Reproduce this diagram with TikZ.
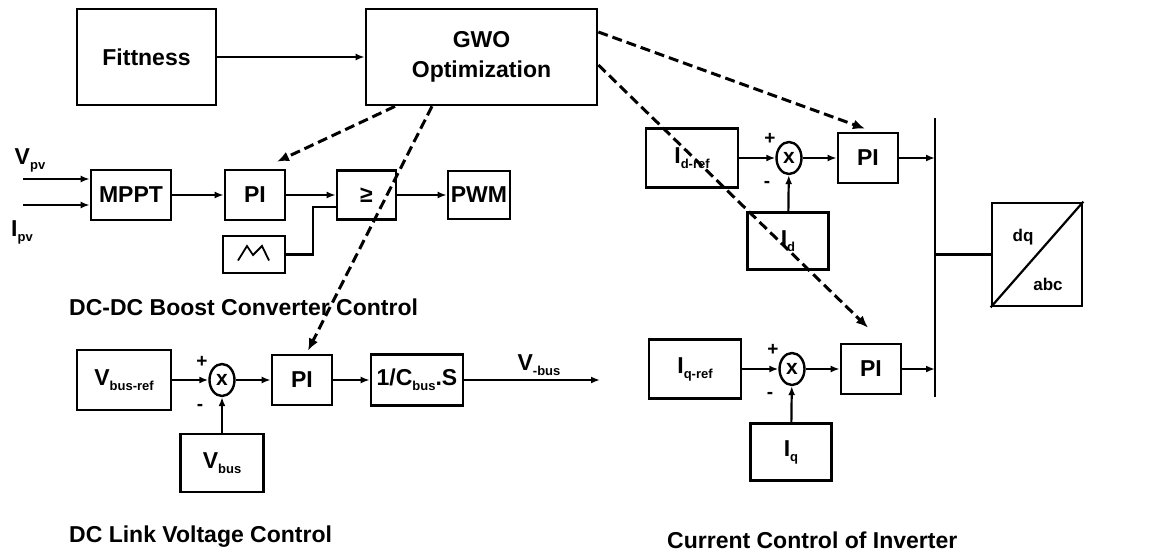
\documentclass[tikz,border=0pt]{standalone}
\usepackage{fontspec}
\setmainfont{Liberation Sans}
\usetikzlibrary{arrows.meta,calc,positioning,shapes.geometric}
\newcommand{\sbs}[1]{\raisebox{-5pt}{\fontsize{13}{13}\selectfont #1}}
\tikzset{
  blk/.style={
    draw,
    line width=2.7pt,
    inner sep=0pt,
    align=center,
    font=\bfseries\fontsize{23}{30}\selectfont
  },
  summ/.style={
    shape=ellipse,
    draw,
    line width=2.4pt,
    inner sep=0pt,
    minimum width=25pt,
    minimum height=32pt,
    font=\bfseries\fontsize{21}{21}\selectfont
  },
  wire/.style={
    line width=2.2pt,
    -{Latex[length=9pt,width=7pt]}
  },
  ctl/.style={
    line width=3pt,
    dash pattern=on 10pt off 5pt,
    -{Latex[length=12pt,width=10pt]}
  },
  sgn/.style={
    inner sep=0pt,
    font=\bfseries\fontsize{19}{19}\selectfont
  },
  ttl/.style={
    anchor=west,
    inner sep=0pt,
    font=\bfseries\fontsize{23}{26}\selectfont
  },
}

\begin{document}
\begin{tikzpicture}[x=1pt,y=-1pt]
\useasboundingbox (0,0) rectangle (1165,554);
\node[blk, minimum width=139pt, minimum height=96pt] (fit) at (146.5,57) {Fittness};
\node[blk, minimum width=231pt, minimum height=96pt] (gwo) at (481.5,57) {GWO\\Optimization};
\draw[wire] (fit) -- (gwo);

\node[blk, minimum width=80pt, minimum height=50pt] (mppt) at (131,195) {MPPT};
\node[blk, minimum width=60pt, minimum height=50pt] (pib) at (255,195) {PI};
\node[blk, minimum width=59pt, minimum height=49pt] (cmp) at (366.5,195) {≥};
\node[blk, minimum width=62pt, minimum height=48pt] (pwm) at (479,195) {PWM};
\node[blk, minimum width=62pt, minimum height=37pt] (tri) at (254,254.5) {};
\draw[line width=1.8pt] ($(tri.center)+(-16,6)$) -- ++(9,-14.5) -- ++(6,9) -- ++(9,-9) -- ++(7,14.5);
\coordinate (vpvin) at (23,179);
\coordinate (ipvin) at (23,205);
\node[blk, draw=none] (vpv) at (30,160) {V\sbs{pv}};
\node[blk, draw=none] (ipv) at (22,232) {I\sbs{pv}};
\draw[wire] (vpvin) -- (vpvin -| mppt.west);
\draw[wire] (ipvin) -- (ipvin -| mppt.west);
\draw[wire] (mppt) -- (pib);
\draw[wire] (pib) -- (cmp);
\draw[wire] (cmp) -- (pwm);
\draw[line width=2.2pt] (tri.east) -- ++(27,0) |- ([yshift=-12pt]cmp.west);
\node[ttl] (boostt) at (69,307) {DC-DC Boost Converter Control};

\node[blk, minimum width=94pt, minimum height=60pt] (vref) at (124,380) {V\sbs{bus-ref}};
\node[summ] (sumv) at (222,380) {x};
\node[blk, minimum width=60pt, minimum height=50pt] (piv) at (302,380) {PI};
\node[blk, minimum width=92pt, minimum height=51pt] (cbus) at (417,380) {1/C\sbs{bus}.S};
\node[blk, minimum width=83pt, minimum height=58pt] (vbus) at (222,463) {V\sbs{bus}};
\coordinate (vout) at (600,380);
\node[blk, draw=none] (voutl) at (539,365) {V\sbs{-bus}};
\node[sgn] at ($(sumv)+(-20,-18)$) {+};
\node[sgn] at ($(sumv)+(-22,27)$) {-};
\draw[wire] (vref) -- (sumv);
\draw[wire] (sumv) -- (piv);
\draw[wire] (piv) -- (cbus);
\draw[wire] (cbus) -- (vout);
\draw[wire] (vbus) -- (sumv);
\node[ttl] (linkt) at (69,537) {DC Link Voltage Control};

\coordinate (bustop) at (935,118);
\coordinate (busbot) at (935,397);
\draw[line width=2.8pt] (bustop) -- (busbot);
\foreach \a/\dx/\y in {d/0/158,q/3/369}{
  \node[blk, minimum width=92pt, minimum height=59pt] (ref\a) at (692+\dx,\y) {I\sbs{\a-ref}};
  \node[summ] (sum\a) at (789+\dx,\y) {x};
  \node[blk, minimum width=60pt, minimum height=50pt] (pi\a) at (868+\dx,\y) {PI};
  \node[blk, minimum width=81pt, minimum height=57pt] (fb\a) at (788+\dx,\y+83) {I\sbs{\a}};
  \node[sgn] at ($(sum\a)+(-19,-19)$) {+};
  \node[sgn] at ($(sum\a)+(-22,26)$) {-};
  \draw[wire] (ref\a) -- (sum\a);
  \draw[wire] (sum\a) -- (pi\a);
  \draw[wire] (fb\a) -- (sum\a);
  \draw[wire] (pi\a) -- (pi\a -| bustop);
}
\node[blk, minimum width=90pt, minimum height=103pt] (dq) at (1037,254.5) {};
\draw[line width=2.2pt] (dq.south west) -- (dq.north east);
\node[blk, draw=none, font=\bfseries\fontsize{17}{17}\selectfont] (dql) at ($(dq)+(-14,-17)$) {dq};
\node[blk, draw=none, font=\bfseries\fontsize{17}{17}\selectfont] (abcl) at ($(dq)+(11,30)$) {abc};
\draw[line width=2.2pt] (dq.west -| busbot) -- (dq.west);
\node[ttl] (invt) at (667,540) {Current Control of Inverter};

\draw[ctl] ([xshift=-86.5pt]gwo.south) -- ([xshift=22pt,yshift=7pt]pib.north);
\draw[ctl] ([xshift=-49.5pt]gwo.south) -- ([xshift=6pt,yshift=3pt]piv.north);
\draw[ctl] ([yshift=25pt]gwo.east) -- ([xshift=-3pt,yshift=3pt]pid.north);
\draw[ctl] ([yshift=-8pt]gwo.east) -- ([xshift=-3pt,yshift=15pt]piq.north);
\end{tikzpicture}
\end{document}
